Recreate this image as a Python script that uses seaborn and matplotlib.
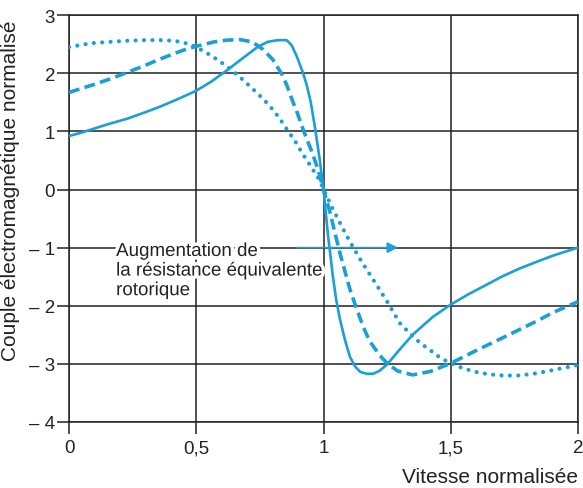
import matplotlib
matplotlib.use("Agg")
import matplotlib.pyplot as plt
import matplotlib.patheffects as pe
import seaborn as sns
import pandas as pd

# valeurs (vitesse normalisée, couple normalisé)
solid_x = [0, 0.05, 0.10, 0.15, 0.23, 0.30, 0.36, 0.43, 0.50, 0.56, 0.62, 0.68, 0.74, 0.78,
           0.82, 0.855, 0.875, 0.895, 0.92, 0.935, 0.95, 0.967, 0.985, 1.0, 1.018, 1.037,
           1.05, 1.065, 1.085, 1.104, 1.125, 1.145, 1.17, 1.195, 1.22, 1.25, 1.29, 1.35,
           1.43, 1.50, 1.57, 1.64, 1.70, 1.77, 1.84, 1.90, 1.95, 2.0]
solid_y = [0.92, 0.98, 1.05, 1.12, 1.22, 1.33, 1.43, 1.56, 1.70, 1.86, 2.05, 2.25, 2.45, 2.54,
           2.57, 2.57, 2.48, 2.29, 2.0, 1.78, 1.50, 1.05, 0.52, 0.0, -0.8, -1.5,
           -1.9, -2.24, -2.6, -2.88, -3.05, -3.14, -3.17, -3.17, -3.12, -3.01, -2.80, -2.50,
           -2.19, -1.98, -1.80, -1.64, -1.50, -1.36, -1.24, -1.14, -1.07, -1.0]

dash_x = [0, 0.05, 0.10, 0.16, 0.22, 0.29, 0.35, 0.42, 0.47, 0.515, 0.57, 0.62, 0.67, 0.72,
          0.762, 0.80, 0.837, 0.857, 0.876, 0.896, 0.915, 0.935, 0.955, 0.974, 0.986, 1.0,
          1.026, 1.045, 1.065, 1.085, 1.104, 1.13, 1.155, 1.18, 1.22, 1.25, 1.29, 1.35,
          1.42, 1.50, 1.60, 1.70, 1.77, 1.84, 1.90, 2.0]
dash_y = [1.67, 1.74, 1.81, 1.90, 2.0, 2.12, 2.23, 2.35, 2.43, 2.48, 2.54, 2.57, 2.58, 2.54,
          2.41, 2.24, 1.98, 1.78, 1.55, 1.33, 1.09, 0.86, 0.64, 0.40, 0.22, 0.0,
          -0.40, -0.75, -1.10, -1.42, -1.72, -2.05, -2.35, -2.60, -2.85, -2.99, -3.12, -3.19,
          -3.13, -2.99, -2.77, -2.56, -2.41, -2.26, -2.12, -1.93]

dot_x = [0, 0.05, 0.095, 0.16, 0.23, 0.30, 0.36, 0.41, 0.45, 0.49, 0.53, 0.57, 0.62, 0.67,
         0.72, 0.76, 0.79, 0.825, 0.857, 0.89, 0.92, 0.95, 0.986, 1.0, 1.037, 1.07, 1.104,
         1.14, 1.17, 1.21, 1.25, 1.30, 1.34, 1.38, 1.43, 1.46, 1.50, 1.55, 1.60, 1.65, 1.705,
         1.77, 1.84, 1.92, 2.0]
dot_y = [2.45, 2.49, 2.52, 2.54, 2.56, 2.57, 2.57, 2.56, 2.53, 2.47, 2.38, 2.27, 2.12, 1.94,
         1.74, 1.57, 1.43, 1.24, 1.03, 0.82, 0.60, 0.40, 0.15, 0.0, -0.34, -0.62, -0.90,
         -1.17, -1.38, -1.65, -1.93, -2.30, -2.48, -2.64, -2.80, -2.90, -2.99, -3.08, -3.14,
         -3.18, -3.20, -3.20, -3.16, -3.09, -3.02]

x_ticks = [0, 0.5, 1, 1.5, 2]
x_labels = ["0", "0,5", "1", "1,5", "2"]
y_ticks = [3, 2, 1, 0, -1, -2, -3, -4]
y_labels = ["3", "2", "1", "0", "– 1", "– 2", "– 3", "– 4"]

bleu = "#1b9fd8"
noir = "#222222"

sns.set_theme(style="white")
plt.rcParams["font.family"] = ["Liberation Sans", "DejaVu Sans"]

fig = plt.figure(figsize=(5.83, 4.89), dpi=100)
ax = fig.add_axes([0.1184, 0.135, 0.873, 0.832])

df_solid = pd.DataFrame({"x": solid_x, "y": solid_y})
df_dash = pd.DataFrame({"x": dash_x, "y": dash_y})
df_dot = pd.DataFrame({"x": dot_x, "y": dot_y})

sns.lineplot(data=df_solid, x="x", y="y", ax=ax, color=bleu, lw=1.9, zorder=3)
sns.lineplot(data=df_dash, x="x", y="y", ax=ax, color=bleu, lw=2.6,
             linestyle=(0, (3.0, 1.5)), zorder=3)
sns.lineplot(data=df_dot, x="x", y="y", ax=ax, color=bleu, lw=3.0,
             linestyle=(0, (0.01, 2.0)), dash_capstyle="round", zorder=3)

ax.set_xlim(0, 2)
ax.set_ylim(-4, 3)
ax.set_xticks(x_ticks, x_labels)
ax.set_yticks(y_ticks, y_labels)
ax.grid(True, color=noir, lw=1.1)
ax.set_axisbelow(True)
for sp in ax.spines.values():
    sp.set_color(noir)
    sp.set_linewidth(1.1)
ax.tick_params(axis="both", direction="out", length=8.5, width=1.1, color=noir,
               labelsize=13.5, labelcolor=noir, pad=1.5, left=True, bottom=True)
ax.tick_params(axis="x", pad=4)

ax.set_xlabel("Vitesse normalisée", fontsize=15, color=noir, loc="right", labelpad=8)
ax.set_ylabel("Couple électromagnétique normalisé", fontsize=15, color=noir)
ax.yaxis.set_label_coords(-0.096, 0.572)

ax.text(0.185, -0.92, "Augmentation de\nla résistance équivalente\nrotorique",
        fontsize=13.5, color=noir, va="top", ha="left", zorder=4,
        path_effects=[pe.withStroke(linewidth=5, foreground="white")])
ax.annotate("", xy=(1.293, -1), xytext=(0.896, -1), zorder=5,
            arrowprops=dict(arrowstyle="-|>", color=bleu, lw=1.2, mutation_scale=16,
                            shrinkA=0, shrinkB=0))

fig.savefig("out.png", dpi=100)
